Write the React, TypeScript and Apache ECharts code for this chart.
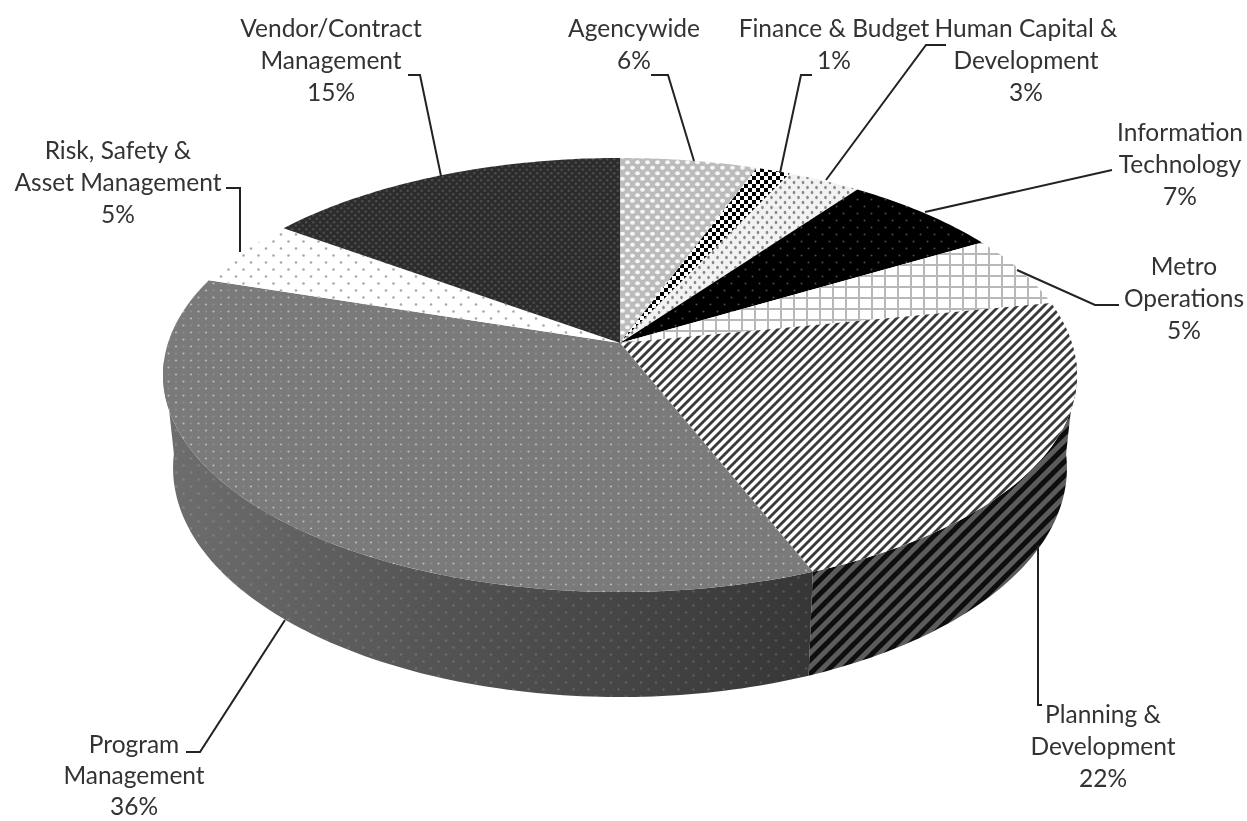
import React, { useEffect, useRef } from "react";
import * as echarts from "echarts";

const categories = [
  "Agencywide",
  "Finance & Budget",
  "Human Capital &\nDevelopment",
  "Information\nTechnology",
  "Metro\nOperations",
  "Planning &\nDevelopment",
  "Program\nManagement",
  "Risk, Safety &\nAsset Management",
  "Vendor/Contract\nManagement",
];
const percentLabels = ["6%", "1%", "3%", "7%", "5%", "22%", "36%", "5%", "15%"];
const shares = [5.6, 1.4, 3, 6.5, 5.4, 22.1, 36, 5, 15];

const labelCentres = [
  [634, 11], [834, 11], [1026, 11], [1180, 115], [1184, 249], [1103, 697], [134, 728], [118, 133], [331, 11],
];
const labelLineHeights = [32, 32, 32, 32, 32, 32, 31, 32, 32];
const leaders = [
  [[651, 75], [668, 75], [694, 161]],
  [[812, 75], [801, 75], [780, 173]],
  [[946, 45], [926, 45], [826, 180]],
  [[1112, 170], [925, 212]],
  [[1119, 305], [1095, 305], [1017, 270]],
  [[1042, 705], [1038, 705], [1038, 545]],
  [[186, 752], [200, 752], [285, 620]],
  [[226, 188], [240, 188], [240, 252]],
  [[408, 75], [420, 75], [441, 176]],
];

// Perspective disc geometry
const CX = 620, APEX_Y = 343, K = 0.1475, A = 452, B = 212.3;
const ELL_CY = 375, BOT_CY = 468, BOT_SY = 229 / 217, BOT_SX = 0.978;
const topPoint = (deg: number) => {
  const t = (deg * Math.PI) / 180;
  const u = Math.sin(t), v = -Math.cos(t), d = 1 - K * v;
  return [CX + (A * u) / d, APEX_Y + (B * v) / d];
};
const botPoint = (deg: number) => {
  const [x, y] = topPoint(deg);
  return [CX + (x - CX) * BOT_SX, BOT_CY + (y - ELL_CY) * BOT_SY];
};
const arc = (f: (d: number) => number[], a: number, b: number) => {
  const n = Math.max(2, Math.ceil(Math.abs(b - a) / 1));
  const pts: number[][] = [];
  for (let i = 0; i <= n; i++) pts.push(f(a + ((b - a) * i) / n));
  return pts;
};
const WALL_FROM = 95, WALL_TO = 265;

function tile(w: number, h: number, base: string | null, draw: (c: CanvasRenderingContext2D) => void) {
  const cv = document.createElement("canvas");
  cv.width = w;
  cv.height = h;
  const c = cv.getContext("2d")!;
  if (base) {
    c.fillStyle = base;
    c.fillRect(0, 0, w, h);
  }
  draw(c);
  return { image: cv, repeat: "repeat", imageWidth: w, imageHeight: h };
}
const dots = (pts: number[][], col: string, rx: number, ry = rx) => (c: CanvasRenderingContext2D) => {
  c.fillStyle = col;
  pts.forEach(([x, y]) => {
    c.beginPath();
    c.ellipse(x, y, rx, ry, 0, 0, Math.PI * 2);
    c.fill();
  });
};
const stripes = (n: number, col: string, lw: number) => (c: CanvasRenderingContext2D) => {
  c.strokeStyle = col;
  c.lineWidth = lw;
  for (let o = -n; o <= n; o += n) {
    c.beginPath();
    c.moveTo(o - 2, n + 2);
    c.lineTo(o + n + 2, -2);
    c.stroke();
  }
};
const both = (...fs: ((c: CanvasRenderingContext2D) => void)[]) => (c: CanvasRenderingContext2D) => fs.forEach((f) => f(c));

function makeTopFills() {
  return [
    tile(10, 11, "#bcbcbc", dots([[2.5, 2.75], [7.5, 8.25]], "#f6f6f6", 2.4, 2.1)),
    tile(8, 8, "#ffffff", (c) => {
      c.fillStyle = "#000";
      c.fillRect(0, 0, 4, 4);
      c.fillRect(4, 4, 4, 4);
    }),
    tile(9, 10, "#f2f2f2", dots([[2, 2.5], [6.5, 7.5]], "#888888", 1.3, 1.7)),
    tile(14, 14, "#000000", dots([[3.5, 3.5], [10.5, 10.5]], "#4e4e4e", 1)),
    tile(13, 11, "#ffffff", (c) => {
      c.fillStyle = "#b8b8b8";
      c.fillRect(0, 0, 2, 11);
      c.fillRect(0, 0, 13, 2);
    }),
    tile(9, 9, "#ffffff", stripes(9, "#3a3a3a", 2.8)),
    tile(
      15,
      14,
      "#7a7a7a",
      both(
        dots([[3.5, 3.5], [11, 10.5]], "#bcbcbc", 1.1),
        dots([[11, 3.5], [3.5, 10.5]], "#8e8e8e", 1.1),
      ),
    ),
    tile(15, 14, "#ffffff", dots([[3.5, 3.5], [11, 10.5]], "#a8a8a8", 1.3)),
    tile(7, 7, "#2c2c2c", dots([[1.75, 1.75], [5.25, 5.25]], "#4c4c4c", 1.3)),
  ];
}

export default function App() {
  const ref = useRef<HTMLDivElement>(null);
  useEffect(() => {
    const chart = echarts.init(ref.current!, undefined, { renderer: "svg" });
    const fills = makeTopFills();
    const pmDots = tile(15, 14, null, dots([[3.5, 3.5], [11, 10.5]], "rgba(255,255,255,0.14)", 1.3));
    const pdStripes = tile(14, 14, "#5c5c5c", stripes(14, "#0e0e0e", 5));
    const pmBase = {
      type: "linear", x: 0, y: 0, x2: 1, y2: 0,
      colorStops: [
        { offset: 0, color: "#6e6e6e" },
        { offset: 0.45, color: "#525252" },
        { offset: 1, color: "#363636" },
      ],
    };
    const starts: number[] = [];
    shares.reduce((s, v, i) => ((starts[i] = s), s + v), 0);
    const total = shares.reduce((a, b) => a + b, 0);
    const angle = (i: number) => (starts[i] / total) * 360;
    const span = (i: number) => (shares[i] / total) * 360;
    const seriesData = shares.map((v, i) => ({ name: categories[i].replace("\n", " "), value: [v] }));

    chart.setOption({
      animation: false,
      backgroundColor: "#ffffff",
      series: [
        {
          type: "custom",
          coordinateSystem: "none",
          silent: true,
          z: 1,
          data: seriesData,
          renderItem: (p: any) => {
            const i = p.dataIndex;
            const a = Math.max(angle(i), WALL_FROM);
            const b = Math.min(angle(i) + span(i), WALL_TO);
            if (b <= a) return { type: "group", children: [] };
            const points = [...arc(topPoint, a, b), ...arc(botPoint, b, a)];
            const isPD = i === 5;
            const children: any[] = [
              { type: "polygon", shape: { points }, style: { fill: isPD ? pdStripes : pmBase } },
            ];
            if (!isPD) children.push({ type: "polygon", shape: { points }, style: { fill: pmDots } });
            return { type: "group", children };
          },
        },
        {
          type: "custom",
          coordinateSystem: "none",
          silent: true,
          z: 2,
          data: seriesData,
          renderItem: (p: any) => {
            const i = p.dataIndex;
            const points = [[CX, APEX_Y], ...arc(topPoint, angle(i), angle(i) + span(i))];
            return { type: "polygon", shape: { points }, style: { fill: fills[i] } };
          },
        },
      ],
      graphic: [
        ...leaders.map((points) => ({
          type: "polyline",
          z: 10,
          shape: { points },
          style: { stroke: "#222222", lineWidth: 2, fill: "none" },
        })),
        ...categories.map((c, i) => ({
          type: "text",
          z: 11,
          x: labelCentres[i][0],
          y: labelCentres[i][1],
          style: {
            text: `${c}\n${percentLabels[i]}`,
            fill: "#333333",
            font: '24.5px Lato, "Open Sans", sans-serif',
            align: "center",
            verticalAlign: "top",
            lineHeight: labelLineHeights[i],
          },
        })),
      ],
    });
    return () => chart.dispose();
  }, []);
  return (
    <div
      ref={ref}
      style={{ position: "fixed", left: 0, top: 0, width: 1247, height: 821, filter: "blur(0.7px)" }}
    />
  );
}
